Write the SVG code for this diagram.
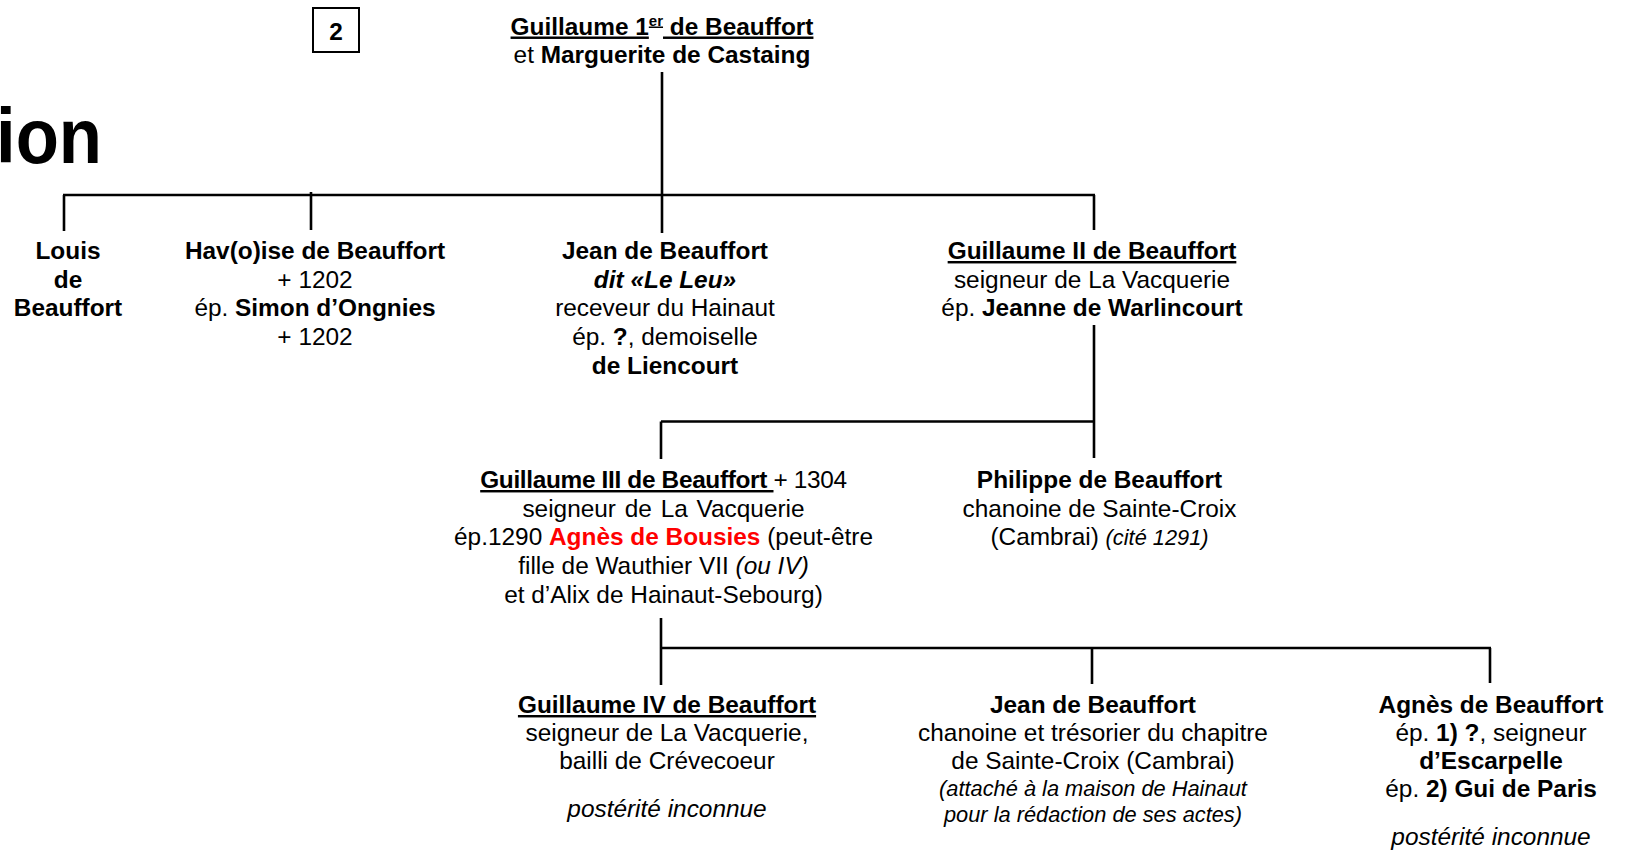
<svg xmlns="http://www.w3.org/2000/svg" width="1627" height="854" viewBox="0 0 1627 854">
<style>
.t{font-family:"Liberation Sans",Arial,sans-serif;font-size:24.4px;fill:#000;text-anchor:middle}
.b{font-weight:bold}
.i{font-style:italic}
.u{text-decoration:underline}
.s{font-size:21.8px}
.red{fill:#ff0000}
.ln{fill:none;stroke:#000;stroke-width:2.6}
</style>
<rect width="1627" height="854" fill="#fff"/>
<g id="title">
<text x="-4" y="163" font-family="'Liberation Sans',Arial,sans-serif" font-weight="bold" font-size="77" textLength="106" lengthAdjust="spacingAndGlyphs">ion</text>
</g>
<g id="page-number">
<rect x="313" y="8" width="46" height="44" fill="none" stroke="#000" stroke-width="2"/>
<text class="t b" x="336" y="40" font-size="25">2</text>
</g>
<g id="connectors">
<path class="ln" d="M662 72V233M63 195H1095M64 195V231M311 192V230M1094 195V230"/>
<path class="ln" d="M1094 325V458M661 421.5H1095M661 421.5V459"/>
<path class="ln" d="M661 618V685M661 648H1491M1092 648V684M1490 648V683"/>
</g>
<g id="guillaume1">
<text class="t" x="662" y="34.5"><tspan class="b u">Guillaume 1</tspan><tspan class="b u" font-size="15" dy="-9">er</tspan><tspan class="b u" dy="9"> de Beauffort</tspan></text>
<text class="t" x="662" y="63">et <tspan class="b">Marguerite de Castaing</tspan></text>
</g>
<g id="louis">
<text class="t b" x="68" y="259">Louis</text>
<text class="t b" x="68" y="287.7">de</text>
<text class="t b" x="68" y="316.4">Beauffort</text>
</g>
<g id="havoise">
<text class="t b" x="315" y="259">Hav(o)ise de Beauffort</text>
<text class="t" x="315" y="287.7">+ 1202</text>
<text class="t" x="315" y="316.4">ép. <tspan class="b">Simon d’Ongnies</tspan></text>
<text class="t" x="315" y="345.1">+ 1202</text>
</g>
<g id="jean1">
<text class="t b" x="665" y="259">Jean de Beauffort</text>
<text class="t b i" x="665" y="287.7">dit «Le Leu»</text>
<text class="t" x="665" y="316.4">receveur du Hainaut</text>
<text class="t" x="665" y="345.1">ép. <tspan class="b">?</tspan>, demoiselle</text>
<text class="t b" x="665" y="373.8">de Liencourt</text>
</g>
<g id="guillaume2">
<text class="t b u" x="1092" y="259">Guillaume II de Beauffort</text>
<text class="t" x="1092" y="287.7">seigneur de La Vacquerie</text>
<text class="t" x="1092" y="316.4">ép. <tspan class="b">Jeanne de Warlincourt</tspan></text>
</g>
<g id="guillaume3">
<text class="t" x="663.5" y="488" letter-spacing="-0.33"><tspan class="b u">Guillaume III de Beauffort </tspan>+ 1304</text>
<text class="t" x="663.5" y="516.7" word-spacing="2">seigneur de La Vacquerie</text>
<text class="t" x="663.5" y="545.4">ép.1290 <tspan class="b red">Agnès de Bousies</tspan> (peut-être</text>
<text class="t" x="663.5" y="574.1">fille de Wauthier VII <tspan class="i">(ou IV)</tspan></text>
<text class="t" x="663.5" y="602.8">et d’Alix de Hainaut-Sebourg)</text>
</g>
<g id="philippe">
<text class="t b" x="1099.5" y="488">Philippe de Beauffort</text>
<text class="t" x="1099.5" y="516.7">chanoine de Sainte-Croix</text>
<text class="t" x="1099.5" y="545.4">(Cambrai) <tspan class="i s">(cité 1291)</tspan></text>
</g>
<g id="guillaume4">
<text class="t b u" x="667" y="713">Guillaume IV de Beauffort</text>
<text class="t" x="667" y="741">seigneur de La Vacquerie,</text>
<text class="t" x="667" y="769">bailli de Crévecoeur</text>
<text class="t i" x="667" y="817">postérité inconnue</text>
</g>
<g id="jean2">
<text class="t b" x="1093" y="713">Jean de Beauffort</text>
<text class="t" x="1093" y="741">chanoine et trésorier du chapitre</text>
<text class="t" x="1093" y="769">de Sainte-Croix (Cambrai)</text>
<text class="t i s" x="1093" y="796">(attaché à la maison de Hainaut</text>
<text class="t i s" x="1093" y="822">pour la rédaction de ses actes)</text>
</g>
<g id="agnes">
<text class="t b" x="1491" y="713">Agnès de Beauffort</text>
<text class="t" x="1491" y="741">ép. <tspan class="b">1) ?</tspan>, seigneur</text>
<text class="t b" x="1491" y="769">d’Escarpelle</text>
<text class="t" x="1491" y="797">ép. <tspan class="b">2) Gui de Paris</tspan></text>
<text class="t i" x="1491" y="845">postérité inconnue</text>
</g>
</svg>
